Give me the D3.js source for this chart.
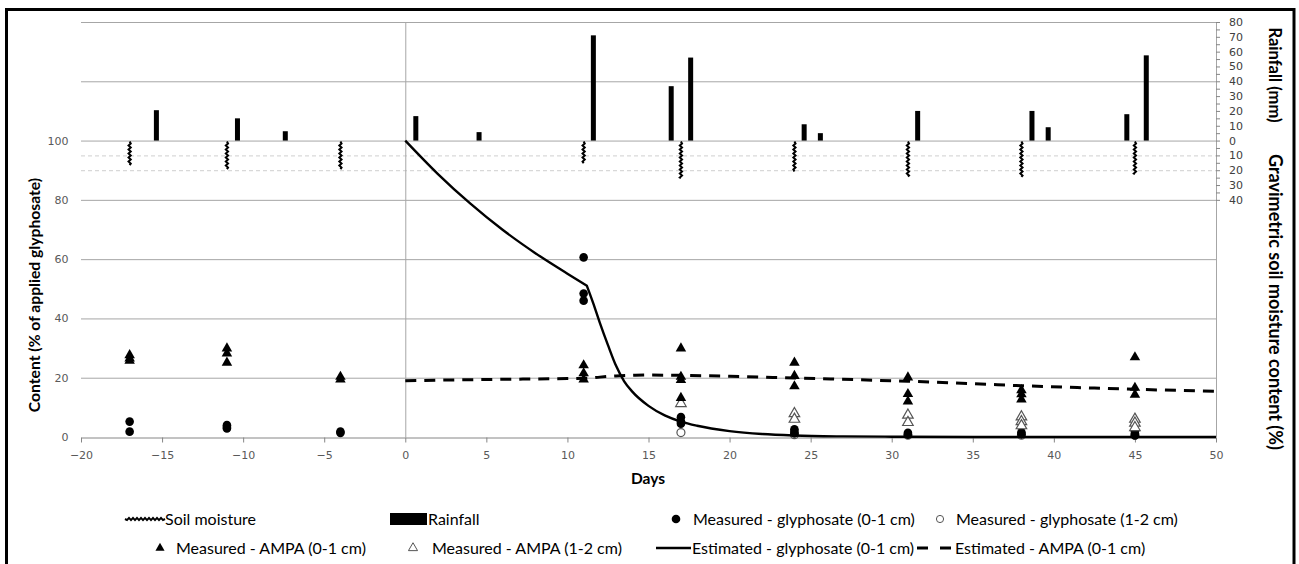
<!DOCTYPE html>
<html>
<head>
<meta charset="utf-8">
<script src="https://cdn.jsdelivr.net/npm/d3@7"></script>
<style>
  body { margin: 0; background: #fff; }
  svg { display: block; }
</style>
</head>
<body>
<script>
// rainfall events (day, mm)
var rainDays = [-15.35, -10.35, -7.4, 0.65, 4.55, 11.6, 16.4, 17.6, 24.6, 25.6, 31.6, 38.65, 39.65, 44.5, 45.7];
var rainMm = [20.5, 15, 6.3, 16.5, 5.7, 71, 36.7, 56, 11, 5, 20, 20, 9, 17.8, 57.5];

// gravimetric soil moisture (%) on sampling days
var moistDays = [-17, -11, -4, 11, 17, 24, 31, 38, 45];
var moistPct = [16.6, 19.3, 19.3, 15.3, 25.4, 20.9, 24.3, 24.5, 22.7];

// measured glyphosate, [day, % of applied]
var glyTop = [[-17, 5.2], [-17, 1.8], [-11, 4.0], [-11, 3.4], [-11, 2.9], [-4, 1.8], [-4, 1.4],
  [11, 60.6], [11, 48.4], [11, 46.0], [17, 6.7], [17, 5.2], [17, 4.5],
  [24, 2.6], [24, 1.8], [24, 1.2], [31, 1.4], [31, 0.8], [38, 1.6], [38, 0.9],
  [45, 1.9], [45, 1.1], [45, 0.5]];
var glySub = [[17, 1.5], [24, 0.8], [31, 0.6], [38, 0.6], [45, 0.6]];

// measured AMPA, [day, % of applied]
var ampaTop = [[-17, 27.6], [-17, 26.5], [-17, 25.7], [-11, 29.9], [-11, 28.2], [-11, 25.1],
  [-4, 20.3], [-4, 19.4], [11, 24.2], [11, 21.5], [11, 19.4],
  [17, 29.9], [17, 20.3], [17, 19.2], [17, 13.2], [24, 25.1], [24, 20.6], [24, 17.1],
  [31, 20.1], [31, 14.5], [31, 12.0], [38, 15.8], [38, 14.4], [38, 12.7],
  [45, 26.9], [45, 16.6], [45, 14.3]];
var ampaSub = [[17, 11.3], [24, 7.9], [24, 6.0], [31, 7.4], [31, 4.9], [38, 6.8], [38, 5.2], [38, 3.8],
  [45, 6.0], [45, 4.7], [45, 3.2]];

// estimated curves (glyphosate has a break after the day-11 rain)
var glyEstDays = [0, 2, 4, 6, 8, 10, 11.2, 11.6, 12, 12.5, 13, 13.5, 14, 15, 16, 17, 18, 20, 22, 24, 27, 30, 35, 40, 45, 50];
var glyEstVals = [100, 88.8, 78.8, 69.9, 62.1, 55.1, 51.0, 45, 38.5, 31, 24, 18.8, 15.3, 10.5, 7.3, 5.2, 3.8, 2.0, 1.0, 0.5, 0.2, 0.1, 0, 0, 0, 0];
var glyBreakDay = 11.2;
var ampaEstDays = [0, 5, 10, 11.2, 12, 13, 14, 15, 17, 20, 24, 28, 31, 35, 38, 42, 45, 50];
var ampaEstVals = [19.0, 19.4, 19.7, 19.8, 20.2, 20.6, 20.8, 20.9, 20.8, 20.5, 19.9, 19.3, 18.8, 18.0, 17.3, 16.6, 16.1, 15.4];

// tick labels
var xTicks = [-20, -15, -10, -5, 0, 5, 10, 15, 20, 25, 30, 35, 40, 45, 50];
var yTicks = [0, 20, 40, 60, 80, 100];
var rainTicks = [0, 10, 20, 30, 40, 50, 60, 70, 80];
var moistTicks = [10, 20, 30, 40];

(function () {
  var W = 1299, H = 564;
  var pL = 81, pR = 1216, pT = 22, pB = 437;

  var svg = d3.select("body").append("svg").attr("width", W).attr("height", H)
    .style("font-family", "'DejaVu Sans', Verdana, sans-serif");

  // scales
  var x = d3.scaleLinear().domain([-20, 50]).range([pL, pR]);
  var y = d3.scaleLinear().domain([0, 140]).range([pB, pT]);
  var yRain = d3.scaleLinear().domain([0, 80]).range([y(100), y(140)]);
  var yMoist = d3.scaleLinear().domain([0, 40]).range([y(100), y(80)]);

  // wavy stroke used for soil moisture (vertical bar or legend swatch)
  function wavyV(cx, y0, y1) {
    var p = d3.path(), k = 0;
    p.moveTo(cx, y0);
    for (var t = y0 + 2; t < y1; t += 2) { p.lineTo(cx + (k++ % 2 ? -1.1 : 1.1), t); }
    p.lineTo(cx, y1);
    return p.toString();
  }
  function wavyH(x0, x1, cy) {
    var p = d3.path(), k = 0;
    p.moveTo(x0, cy);
    for (var t = x0 + 2; t < x1; t += 2) { p.lineTo(t, cy + (k++ % 2 ? -1.1 : 1.1)); }
    p.lineTo(x1, cy);
    return p.toString();
  }

  // gridlines
  svg.append("g").selectAll("line").data([20, 40, 60, 80, 100, 120, 140]).join("line")
    .attr("x1", pL).attr("x2", pR)
    .attr("y1", function (d) { return y(d) + 0.5; }).attr("y2", function (d) { return y(d) + 0.5; })
    .attr("stroke", "#a6a6a6");

  // soil moisture reference lines
  svg.append("g").selectAll("line").data([10, 20]).join("line")
    .attr("x1", pL).attr("x2", pR)
    .attr("y1", function (d) { return yMoist(d) + 0.5; }).attr("y2", function (d) { return yMoist(d) + 0.5; })
    .attr("stroke", "#cfcfcf").attr("stroke-dasharray", "4,3");

  // vertical axis line at day 0 and right axis line
  svg.append("line").attr("x1", x(0) + 0.5).attr("x2", x(0) + 0.5).attr("y1", pT).attr("y2", pB)
    .attr("stroke", "#a6a6a6");
  svg.append("line").attr("x1", pR + 0.5).attr("x2", pR + 0.5).attr("y1", pT).attr("y2", pB)
    .attr("stroke", "#a6a6a6");

  // x axis
  var xAxis = svg.append("g").attr("transform", "translate(0," + (pB + 0.5) + ")")
    .call(d3.axisBottom(x).tickValues(xTicks).tickSize(5).tickPadding(9).tickSizeOuter(0));
  xAxis.select(".domain").attr("stroke", "#868686");
  xAxis.selectAll(".tick line").attr("stroke", "#868686");
  xAxis.selectAll("text").attr("fill", "#595959").style("font-size", "11px")
    .style("font-family", "'DejaVu Sans', Verdana, sans-serif");

  // left labels
  svg.append("g").selectAll("text").data(yTicks).join("text")
    .attr("x", 68.5).attr("y", function (d) { return y(d) + 4; })
    .attr("text-anchor", "end").attr("fill", "#595959").style("font-size", "11px")
    .text(function (d) { return d; });

  // right axis: rainfall up, soil moisture down
  var rightG = svg.append("g");
  rightG.selectAll("line.minor").data(d3.range(0, 17)).join("line").attr("class", "minor")
    .attr("x1", pR).attr("x2", pR + 4)
    .attr("y1", function (i) { return yRain(80 - i * 5) + 0.5; })
    .attr("y2", function (i) { return yRain(80 - i * 5) + 0.5; })
    .attr("stroke", "#868686");
  rightG.selectAll("line.minor2").data(d3.range(1, 9)).join("line").attr("class", "minor2")
    .attr("x1", pR).attr("x2", pR + 4)
    .attr("y1", function (i) { return yMoist(i * 5) + 0.5; })
    .attr("y2", function (i) { return yMoist(i * 5) + 0.5; })
    .attr("stroke", "#868686");
  rightG.selectAll("text.rain").data(rainTicks).join("text").attr("class", "rain")
    .attr("x", 1229).attr("y", function (d) { return yRain(d) + 4; })
    .attr("fill", "#404040").style("font-size", "11px")
    .text(function (d) { return d; });
  rightG.selectAll("text.moist").data(moistTicks).join("text").attr("class", "moist")
    .attr("x", 1229).attr("y", function (d) { return yMoist(d) + 4; })
    .attr("fill", "#404040").style("font-size", "11px")
    .text(function (d) { return d; });

  // rainfall bars
  svg.append("g").selectAll("rect").data(rainDays).join("rect")
    .attr("x", function (d) { return x(d) - 2.5; })
    .attr("y", function (d, i) { return yRain(rainMm[i]); })
    .attr("width", 5)
    .attr("height", function (d, i) { return yRain(0) - yRain(rainMm[i]); })
    .attr("fill", "#000");

  // soil moisture bars
  svg.append("g").selectAll("path").data(moistDays).join("path")
    .attr("d", function (d, i) { return wavyV(x(d), yMoist(0) + 1, yMoist(moistPct[i])); })
    .attr("fill", "none").attr("stroke", "#000").attr("stroke-width", 2);

  // measured points
  var tri = d3.symbol().type(d3.symbolTriangle).size(48);
  svg.append("g").selectAll("circle").data(glySub).join("circle")
    .attr("cx", function (d) { return x(d[0]); }).attr("cy", function (d) { return y(d[1]); })
    .attr("r", 4).attr("fill", "#fff").attr("stroke", "#555").attr("stroke-width", 1.2);
  svg.append("g").selectAll("circle").data(glyTop).join("circle")
    .attr("cx", function (d) { return x(d[0]); }).attr("cy", function (d) { return y(d[1]); })
    .attr("r", 4.3).attr("fill", "#000");
  svg.append("g").selectAll("path").data(ampaSub).join("path")
    .attr("d", tri)
    .attr("transform", function (d) { return "translate(" + x(d[0]) + "," + y(d[1]) + ")"; })
    .attr("fill", "#fff").attr("stroke", "#555").attr("stroke-width", 1.2);
  svg.append("g").selectAll("path").data(ampaTop).join("path")
    .attr("d", tri)
    .attr("transform", function (d) { return "translate(" + x(d[0]) + "," + y(d[1]) + ")"; })
    .attr("fill", "#000");

  // estimated lines
  var estLine = d3.line()
    .x(function (d) { return x(d[0]); })
    .y(function (d) { return y(d[1]); })
    .curve(d3.curveMonotoneX);
  var glyPts = d3.zip(glyEstDays, glyEstVals);
  var before = glyPts.filter(function (d) { return d[0] <= glyBreakDay; });
  var after = glyPts.filter(function (d) { return d[0] >= glyBreakDay; });
  svg.append("path")
    .attr("d", estLine(before) + estLine(after).replace(/^M/, "L"))
    .attr("fill", "none").attr("stroke", "#000").attr("stroke-width", 2.4)
    .attr("stroke-linejoin", "round");
  svg.append("path")
    .attr("d", estLine(d3.zip(ampaEstDays, ampaEstVals)))
    .attr("fill", "none").attr("stroke", "#000").attr("stroke-width", 3)
    .attr("stroke-dasharray", "11,8");

  // axis titles
  var titleFont = "Lato, 'Open Sans', sans-serif";
  svg.append("text").attr("x", 648).attr("y", 484).attr("text-anchor", "middle")
    .style("font-family", titleFont).style("font-weight", "bold").style("font-size", "15.5px")
    .text("Days");
  svg.append("text").attr("transform", "translate(40,295) rotate(-90)").attr("text-anchor", "middle")
    .style("font-family", titleFont).style("font-weight", "bold").style("font-size", "15.7px")
    .text("Content (% of applied glyphosate)");
  svg.append("text").attr("transform", "translate(1269,75) rotate(90)").attr("text-anchor", "middle")
    .style("font-family", titleFont).style("font-weight", "bold").style("font-size", "16.5px")
    .text("Rainfall (mm)");
  svg.append("text").attr("transform", "translate(1269,302) rotate(90)").attr("text-anchor", "middle")
    .style("font-family", titleFont).style("font-weight", "bold").style("font-size", "18px")
    .text("Gravimetric soil moisture content (%)");

  // legend
  var lg = svg.append("g").style("font-family", titleFont).style("font-size", "16px");
  var row1 = 519, row2 = 548;
  lg.append("path").attr("d", wavyH(125, 165, row1))
    .attr("fill", "none").attr("stroke", "#000").attr("stroke-width", 2);
  lg.append("text").attr("x", 165).attr("y", row1 + 5.5).text("Soil moisture");
  lg.append("rect").attr("x", 390).attr("y", row1 - 6).attr("width", 37).attr("height", 12).attr("fill", "#000");
  lg.append("text").attr("x", 428).attr("y", row1 + 5.5).text("Rainfall");
  lg.append("circle").attr("cx", 676).attr("cy", row1).attr("r", 4.3).attr("fill", "#000");
  lg.append("text").attr("x", 693).attr("y", row1 + 5.5).text("Measured - glyphosate (0-1 cm)");
  lg.append("circle").attr("cx", 940).attr("cy", row1).attr("r", 3.6).attr("fill", "#fff").attr("stroke", "#555");
  lg.append("text").attr("x", 956).attr("y", row1 + 5.5).text("Measured - glyphosate (1-2 cm)");
  lg.append("path").attr("d", d3.symbol().type(d3.symbolTriangle).size(36))
    .attr("transform", "translate(160," + row2 + ")").attr("fill", "#000");
  lg.append("text").attr("x", 176).attr("y", row2 + 5.5).text("Measured - AMPA (0-1 cm)");
  lg.append("path").attr("d", d3.symbol().type(d3.symbolTriangle).size(36))
    .attr("transform", "translate(413," + row2 + ")").attr("fill", "#fff").attr("stroke", "#555");
  lg.append("text").attr("x", 432).attr("y", row2 + 5.5).text("Measured - AMPA (1-2 cm)");
  lg.append("line").attr("x1", 656).attr("x2", 691).attr("y1", row2).attr("y2", row2)
    .attr("stroke", "#000").attr("stroke-width", 2.4);
  lg.append("text").attr("x", 692).attr("y", row2 + 5.5).text("Estimated - glyphosate (0-1 cm)");
  lg.append("line").attr("x1", 917).attr("x2", 951).attr("y1", row2).attr("y2", row2)
    .attr("stroke", "#000").attr("stroke-width", 3).attr("stroke-dasharray", "11,12");
  lg.append("text").attr("x", 955).attr("y", row2 + 5.5).text("Estimated - AMPA (0-1 cm)");

  // outer frame
  svg.append("rect").attr("x", 6.5).attr("y", 9.5).attr("width", 1287.5).attr("height", 560)
    .attr("fill", "none").attr("stroke", "#000").attr("stroke-width", 3);
})();
</script>
</body>
</html>
